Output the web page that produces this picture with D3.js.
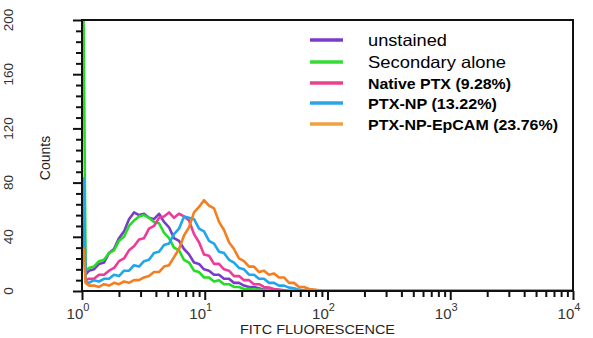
<!DOCTYPE html>
<html>
<head>
<meta charset="utf-8">
<script src="https://cdn.jsdelivr.net/npm/d3@7"></script>
<style>
  body { margin: 0; background: #fff; }
  svg { display: block; font-family: Arial, "Liberation Sans", sans-serif; }
</style>
</head>
<body>
<svg id="chart"></svg>
<script>
// fluorescence channel grid (log scale)
const fluor = [1.07, 1.140, 1.252, 1.375, 1.511, 1.660, 1.823, 2.002, 2.199, 2.415,
  2.653, 2.914, 3.200, 3.515, 3.861, 4.241, 4.658, 5.116, 5.619, 6.172,
  6.777, 7.444, 8.177, 8.981, 9.86, 10.83, 11.90, 13.07, 14.35, 15.76,
  17.31, 19.01, 20.88, 22.94, 25.19, 27.67, 30.39, 33.38, 36.66, 40.27,
  44.22, 48.58, 53.35, 58.60, 64.37, 70.70, 77.64, 85.28, 93.66];

const unstained = [12, 15, 16, 20, 21, 28, 31, 39, 44, 53,
  58, 56, 57, 54, 53, 57, 51, 47, 39, 37,
  31, 27, 21, 20, 16, 15, 12, 12, 9, 9,
  6, 6, 4, 3, 3, 2, 1, 1, 0.5, 0,
  0, 0, 0, 0, 0, 0, 0, 0, 0];
const secondary = [15, 17, 18, 22, 23, 28, 30, 37, 40, 48,
  52, 55, 56, 54, 51, 50, 43, 39, 32, 30,
  23, 21, 15, 14, 10, 10, 7, 8, 5, 5,
  3, 3, 1.5, 1.5, 1, 1, 0.5, 0.5, 0, 0,
  0, 0, 0, 0, 0, 0, 0, 0, 0];
const nativePtx = [8, 9, 9, 12, 12, 15, 17, 22, 24, 30,
  33, 38, 39, 46, 48, 54, 55, 58, 54, 57,
  55, 52, 42, 36, 27, 26, 20, 20, 16, 15,
  11, 11, 8, 8, 5, 5, 3, 2.5, 1.5, 1,
  0.5, 0, 0, 0, 0, 0, 0, 0, 0];
const ptxNp = [7, 6, 8, 7, 9, 9, 12, 11, 15, 15,
  19, 18, 22, 23, 28, 29, 34, 35, 42, 46,
  55, 54, 53, 46, 44, 37, 35, 29, 28, 23,
  21, 17, 16, 12, 12, 9, 9, 6, 6, 4,
  4, 2.5, 2, 1, 0.5, 0, 0, 0, 0];
const ptxNpEpcam = [6, 4, 4, 3, 5, 4, 6, 5, 7, 6,
  8, 8, 10, 11, 14, 14, 18, 19, 25, 31,
  41, 47, 58, 62, 67, 63, 61, 51, 45, 36,
  31, 24, 22, 18, 18, 14, 15, 12, 13, 10,
  10, 6, 6, 3, 3, 1.5, 1, 0.5, 0];

// first bin (at 10^0) counts
const firstBin = [60, 200, 40, 84, 32];

const seriesNames = ["unstained", "Secondary alone", "Native PTX (9.28%)", "PTX-NP (13.22%)", "PTX-NP-EpCAM (23.76%)"];
const seriesColors = ["#7a3cc8", "#22dd22", "#ee3b9a", "#1ea7ea", "#f47f20"];
const legendColors = ["#7a3cc8", "#33dd33", "#e8428f", "#2aa6e6", "#f0a040"];
const legendBold = [false, false, true, true, true];
const legendWidths = [79, 138, 143, 129, 190];

const yTicks = [0, 40, 80, 120, 160, 200];
const xDecades = [0, 1, 2, 3, 4];

const W = 593, H = 338;
const margin = {top: 20, right: 20, bottom: 47, left: 82};
const innerW = 573 - margin.left;
const innerH = 291 - margin.top;

const svg = d3.select("#chart").attr("width", W).attr("height", H);
const chart = svg.append("g").attr("transform", `translate(${margin.left},${margin.top})`);

const x = d3.scaleLog().domain([1, 10000]).range([0, innerW]);
const y = d3.scaleLinear().domain([0, 200]).range([innerH, 0]);

svg.append("defs").append("clipPath").attr("id", "clip")
  .append("rect").attr("x", 0).attr("y", -1).attr("width", innerW).attr("height", innerH + 1);

// y axis with minor ticks every 8
const yAxis = d3.axisLeft(y).tickValues(d3.range(0, 201, 8)).tickFormat("").tickSizeOuter(0);
const yg = chart.append("g").call(yAxis);
yg.select(".domain").remove();
yg.selectAll(".tick line")
  .attr("x2", d => d % 40 === 0 ? -9 : -6)
  .attr("stroke", "#111").attr("stroke-width", 2);

chart.append("g").selectAll("text").data(yTicks).join("text")
  .attr("transform", d => `translate(${13 - margin.left},${y(d)}) rotate(-90)`)
  .attr("text-anchor", "middle")
  .attr("font-size", 13.5)
  .attr("fill", "#333")
  .text(d => d);

// x axis, log ticks
const xTickVals = [];
xDecades.slice(0, -1).forEach(p => { for (let k = 1; k < 10; k++) xTickVals.push(k * Math.pow(10, p)); });
xTickVals.push(10000);
const xAxis = d3.axisBottom(x).tickValues(xTickVals).tickFormat("").tickSizeOuter(0);
const xg = chart.append("g").attr("transform", `translate(0,${innerH})`).call(xAxis);
xg.select(".domain").remove();
xg.selectAll(".tick line")
  .attr("y2", d => Math.abs(Math.log10(d) - Math.round(Math.log10(d))) < 1e-9 ? 9 : 6)
  .attr("stroke", "#111").attr("stroke-width", 2);

const xl = chart.append("g").selectAll("text").data(xDecades).join("text")
  .attr("x", d => x(Math.pow(10, d)) - 4)
  .attr("y", innerH + 28)
  .attr("text-anchor", "middle")
  .attr("font-size", 15)
  .attr("fill", "#333");
xl.append("tspan").text("10");
xl.append("tspan").attr("dy", -8).attr("font-size", 11).text(d => d);

// curves
const line = d3.line().x(d => x(d[0])).y(d => y(d[1]));
const allSeries = [unstained, secondary, nativePtx, ptxNp, ptxNpEpcam];
const curves = chart.append("g").attr("clip-path", "url(#clip)");
allSeries.forEach((vals, i) => {
  const pts = [[1.03, firstBin[i]]].concat(fluor.map((f, j) => [f, vals[j]]), [[10000, 0]]);
  curves.append("path")
    .datum(pts)
    .attr("d", line)
    .attr("fill", "none")
    .attr("stroke", seriesColors[i])
    .attr("stroke-width", 2.6)
    .attr("stroke-linejoin", "round");
});

// frame
chart.append("rect")
  .attr("x", 0).attr("y", 0).attr("width", innerW).attr("height", innerH)
  .attr("fill", "none").attr("stroke", "#111").attr("stroke-width", 2);

// axis titles
svg.append("text")
  .attr("transform", `translate(50,158) rotate(-90)`)
  .attr("text-anchor", "middle")
  .attr("font-size", 14)
  .attr("fill", "#222")
  .text("Counts");

svg.append("text")
  .attr("x", 240).attr("y", 334)
  .attr("font-size", 13.5)
  .attr("fill", "#222")
  .attr("textLength", 155).attr("lengthAdjust", "spacingAndGlyphs")
  .text("FITC FLUORESCENCE");

// legend
const legendY = [40, 62, 83, 103, 124];
const legend = svg.append("g");
seriesNames.forEach((name, i) => {
  legend.append("line")
    .attr("x1", 310).attr("x2", 343)
    .attr("y1", legendY[i]).attr("y2", legendY[i])
    .attr("stroke", legendColors[i]).attr("stroke-width", 3.5);
  legend.append("text")
    .attr("x", 368).attr("y", legendY[i] + 6)
    .attr("font-size", legendBold[i] ? 14.5 : 16.5)
    .attr("font-weight", legendBold[i] ? "bold" : "normal")
    .attr("fill", "#000")
    .attr("textLength", legendWidths[i]).attr("lengthAdjust", "spacingAndGlyphs")
    .text(name);
});
</script>
</body>
</html>
